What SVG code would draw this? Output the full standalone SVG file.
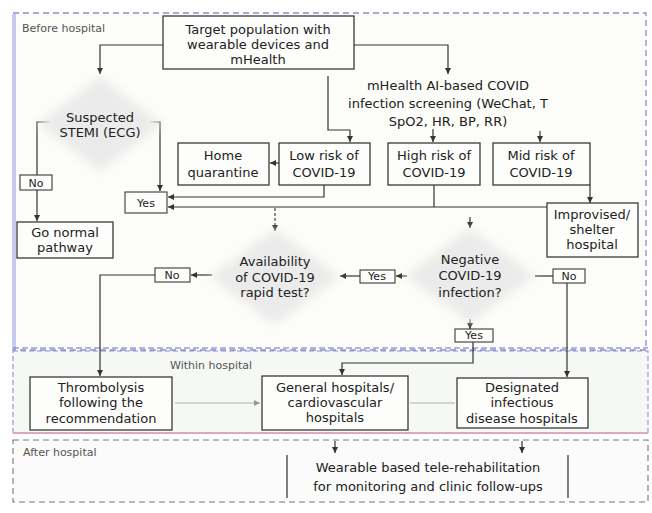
<svg xmlns="http://www.w3.org/2000/svg" width="652" height="513" viewBox="0 0 652 513">
<defs>
<style>
.t{font-family:"DejaVu Sans","Liberation Sans",sans-serif;font-size:13px;fill:#222;text-anchor:middle}
.lbl{font-family:"DejaVu Sans","Liberation Sans",sans-serif;font-size:11px;fill:#555}
.box{fill:#fdfdfb;stroke:#3a3a3a;stroke-width:1.3}
.sbox{fill:#fdfdfb;stroke:#3a3a3a;stroke-width:1.1}
.dia{fill:#ebebeb;filter:url(#soft)}
.c{fill:none;stroke:#333;stroke-width:1.2}
.cf{fill:none;stroke:#c8c8c8;stroke-width:1.4}
.cd{fill:none;stroke:#444;stroke-width:1.2;stroke-dasharray:3 2}
</style>
<filter id="soft" x="-20%" y="-20%" width="140%" height="140%"><feGaussianBlur stdDeviation="5"/></filter>
<marker id="a" markerWidth="7" markerHeight="7" refX="6" refY="3.5" orient="auto" markerUnits="userSpaceOnUse"><path d="M0,0.5 L6,3.5 L0,6.5 Z" fill="#333"/></marker>
<marker id="ag" markerWidth="7" markerHeight="7" refX="6" refY="3.5" orient="auto" markerUnits="userSpaceOnUse"><path d="M0,0.5 L6,3.5 L0,6.5 Z" fill="#999"/></marker>
</defs>
<rect width="652" height="513" fill="#ffffff"/>
<g id="zones">
<rect x="13" y="13" width="633" height="337" fill="#fcfcf8" stroke="#8c8cd6" stroke-width="1.3" stroke-dasharray="6 4"/>
<line x1="14" y1="14" x2="14" y2="349" stroke="#c9c9f0" stroke-width="4"/>
<rect x="13" y="351" width="635" height="82" fill="#f5f8f4" stroke="#8c8cc8" stroke-width="1.1" stroke-dasharray="5 3"/>
<line x1="13" y1="348" x2="648" y2="348" stroke="#6a6ac0" stroke-width="1.2" stroke-dasharray="6 3"/>
<line x1="13" y1="433" x2="648" y2="433" stroke="#e2a8b8" stroke-width="2"/>
<rect x="13" y="440" width="635" height="62" fill="#fafbfa" stroke="#777" stroke-width="1.1" stroke-dasharray="6 4"/>
<text class="lbl" x="22" y="32">Before hospital</text>
<text class="lbl" x="170" y="369">Within hospital</text>
<text class="lbl" x="23" y="456">After hospital</text>
</g>
<g id="connectors">
<path class="c" d="M354,45 H448 V74" marker-end="url(#a)"/>
<path class="c" d="M163,45 H100 V74" marker-end="url(#a)"/>
<path class="c" d="M50,122 H37 V175"/>
<path class="c" d="M37,190 V221" marker-end="url(#a)"/>
<path class="c" d="M150,122 H160 V191" marker-end="url(#a)"/>
<path class="c" d="M328,76 V130 H350 V142" marker-end="url(#a)"/>
<path class="c" d="M433,129 V142" marker-end="url(#a)"/>
<path class="c" d="M540,131 V142" marker-end="url(#a)"/>
<path class="c" d="M279,163 H270" marker-end="url(#a)"/>
<path class="c" d="M324,185 V197 H168" marker-end="url(#a)"/>
<path class="c" d="M547,207 H168" marker-end="url(#a)"/>
<path class="c" d="M434,185 V207"/>
<path class="c" d="M590,185 V203" marker-end="url(#a)"/>
<path class="cd" d="M275,208 V231" marker-end="url(#a)"/>
<path class="c" d="M470,217 V228" marker-end="url(#a)"/>
<path class="c" d="M212,275 H191" marker-end="url(#a)"/>
<path class="c" d="M155,275 H100 V376" marker-end="url(#a)"/>
<path class="c" d="M407,276 H396" marker-end="url(#a)"/>
<path class="c" d="M360,276 H340" marker-end="url(#a)"/>
<path class="c" d="M535,276 H553"/>
<path class="c" d="M567,283 V377" marker-end="url(#a)"/>
<path class="c" d="M470,319 V329" marker-end="url(#a)"/>
<path class="c" d="M473,342 V363 H342 V375" marker-end="url(#a)"/>
<path class="cf" d="M175,403 H260" marker-end="url(#ag)"/>
<path class="cf" d="M410,403 H455"/>
<path class="c" d="M335,441 V453" marker-end="url(#a)"/>
<path class="c" d="M522,441 V453" marker-end="url(#a)"/>
</g>
<g id="target">
<rect class="box" x="163" y="16" width="191" height="53"/>
<text class="t" x="258" y="34">Target population with</text>
<text class="t" x="258" y="49">wearable devices and</text>
<text class="t" x="258" y="64">mHealth</text>
</g>
<g id="screening">
<text class="t" x="448" y="90">mHealth AI-based COVID</text>
<text class="t" x="448" y="108">infection screening (WeChat, T</text>
<text class="t" x="448" y="126">SpO2, HR, BP, RR)</text>
</g>
<g id="suspected">
<polygon class="dia" points="100,76 162,124 100,172 38,124"/>
<text class="t" x="100" y="122">Suspected</text>
<text class="t" x="100" y="137">STEMI (ECG)</text>
</g>
<g id="no1">
<rect class="sbox" x="20" y="175" width="32" height="15"/>
<text class="t" x="36" y="187" style="font-size:11px">No</text>
</g>
<g id="gonormal">
<rect class="box" x="17" y="222" width="96" height="36"/>
<text class="t" x="65" y="237">Go normal</text>
<text class="t" x="65" y="252">pathway</text>
</g>
<g id="yes1">
<rect class="sbox" x="125" y="192" width="42" height="21"/>
<text class="t" x="146" y="207" style="font-size:11px">Yes</text>
</g>
<g id="home">
<rect class="box" x="178" y="143" width="91" height="42"/>
<text class="t" x="223" y="160">Home</text>
<text class="t" x="223" y="177">quarantine</text>
</g>
<g id="lowrisk">
<rect class="box" x="279" y="143" width="91" height="42"/>
<text class="t" x="324" y="160">Low risk of</text>
<text class="t" x="324" y="177">COVID-19</text>
</g>
<g id="highrisk">
<rect class="box" x="388" y="143" width="92" height="42"/>
<text class="t" x="434" y="160">High risk of</text>
<text class="t" x="434" y="177">COVID-19</text>
</g>
<g id="midrisk">
<rect class="box" x="493" y="143" width="97" height="42"/>
<text class="t" x="541" y="160">Mid risk of</text>
<text class="t" x="541" y="177">COVID-19</text>
</g>
<g id="shelter">
<rect class="box" x="547" y="203" width="91" height="54"/>
<text class="t" x="592" y="219">Improvised/</text>
<text class="t" x="592" y="234">shelter</text>
<text class="t" x="592" y="249">hospital</text>
</g>
<g id="availability">
<polygon class="dia" points="275,229 340,277 275,325 210,277"/>
<text class="t" x="275" y="266">Availability</text>
<text class="t" x="275" y="282">of COVID-19</text>
<text class="t" x="275" y="297">rapid test?</text>
</g>
<g id="no2">
<rect class="sbox" x="155" y="268" width="35" height="14"/>
<text class="t" x="172" y="279" style="font-size:11px">No</text>
</g>
<g id="yes2">
<rect class="sbox" x="360" y="270" width="35" height="13"/>
<text class="t" x="377" y="280" style="font-size:11px">Yes</text>
</g>
<g id="negative">
<polygon class="dia" points="470,228 535,276 470,323 405,276"/>
<text class="t" x="470" y="264">Negative</text>
<text class="t" x="470" y="280">COVID-19</text>
<text class="t" x="470" y="297">infection?</text>
</g>
<g id="no3">
<rect class="sbox" x="553" y="269" width="32" height="14"/>
<text class="t" x="569" y="280" style="font-size:11px">No</text>
</g>
<g id="yes3">
<rect class="sbox" x="455" y="329" width="38" height="13"/>
<text class="t" x="474" y="339" style="font-size:11px">Yes</text>
</g>
<g id="thrombolysis">
<rect class="box" x="30" y="377" width="142" height="53"/>
<text class="t" x="101" y="392">Thrombolysis</text>
<text class="t" x="101" y="407">following the</text>
<text class="t" x="101" y="423">recommendation</text>
</g>
<g id="general">
<rect class="box" x="262" y="376" width="146" height="54"/>
<text class="t" x="335" y="392">General hospitals/</text>
<text class="t" x="335" y="407">cardiovascular</text>
<text class="t" x="335" y="422">hospitals</text>
</g>
<g id="designated">
<rect class="box" x="457" y="378" width="131" height="50"/>
<text class="t" x="522" y="392">Designated</text>
<text class="t" x="522" y="407">infectious</text>
<text class="t" x="522" y="423">disease hospitals</text>
</g>
<g id="wearable">
<rect x="287" y="455" width="281" height="43" fill="#fafbfa"/>
<line x1="287" y1="455" x2="287" y2="498" stroke="#3a3a3a" stroke-width="1.3"/>
<line x1="568" y1="455" x2="568" y2="498" stroke="#3a3a3a" stroke-width="1.3"/>
<text class="t" x="428" y="472">Wearable based tele-rehabilitation</text>
<text class="t" x="428" y="491">for monitoring and clinic follow-ups</text>
</g>
</svg>
